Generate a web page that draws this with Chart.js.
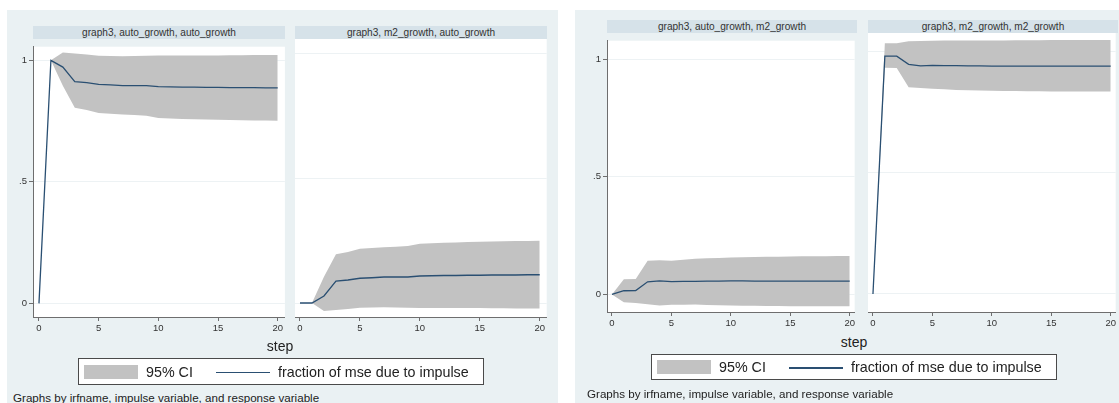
<!DOCTYPE html>
<html><head><meta charset="utf-8">
<script src="https://cdn.jsdelivr.net/npm/chart.js@4.4.1/dist/chart.umd.min.js"></script>
<style>
html,body{margin:0;padding:0;background:#fff;width:1119px;height:403px;overflow:hidden;font-family:"Liberation Sans",Arial,sans-serif;}
.bg{position:absolute;background:#eaf1f3;}
.strip{position:absolute;background:#d6e2e9;color:#333;font-size:10.1px;text-align:center;height:13px;line-height:13px;white-space:nowrap;}
canvas{position:absolute;}
.step{position:absolute;font-size:14px;color:#222;transform:translate(-50%,-50%);white-space:nowrap;}
.legend{position:absolute;background:#fff;border:1px solid #4a4a4a;box-sizing:border-box;}
.legend .sw{position:absolute;background:#c2c2c2;}
.legend .ln{position:absolute;height:1.5px;background:#2a4f72;}
.legend .tx{position:absolute;font-size:14.3px;color:#222;white-space:nowrap;transform:translateY(-50%);}
.foot{position:absolute;font-size:11.6px;color:#222;white-space:nowrap;transform:translateY(-50%);}
</style></head>
<body>
<div class="bg" style="left:7px;top:10px;width:551px;height:393px;"></div>
<div class="bg" style="left:575px;top:10px;width:544px;height:393px;"></div>
<div id="root"></div>
<script>
// ---- data ----
const steps = [0,1,2,3,4,5,6,7,8,9,10,11,12,13,14,15,16,17,18,19,20];
const xTicks = [0,5,10,15,20];
const yTicks = [0,0.5,1];
const yTickLabels = ['0','.5','1'];

const titles = [
  'graph3, auto_growth, auto_growth',
  'graph3, m2_growth, auto_growth',
  'graph3, auto_growth, m2_growth',
  'graph3, m2_growth, m2_growth'
];

// graph3, auto_growth -> auto_growth
const fevd_aa  = [0,1.000,0.972,0.912,0.908,0.901,0.899,0.896,0.896,0.896,0.892,0.891,0.890,0.890,0.889,0.889,0.888,0.888,0.888,0.887,0.887];
const upper_aa = [0,1.000,1.032,1.028,1.024,1.019,1.018,1.017,1.018,1.019,1.020,1.020,1.020,1.020,1.020,1.020,1.021,1.021,1.022,1.022,1.022];
const lower_aa = [0,1.000,0.895,0.805,0.796,0.783,0.780,0.777,0.775,0.772,0.763,0.761,0.759,0.758,0.756,0.755,0.754,0.753,0.752,0.752,0.751];

// graph3, m2_growth -> auto_growth
const fevd_ma  = [0,0,0.028,0.088,0.092,0.099,0.101,0.104,0.104,0.104,0.108,0.109,0.110,0.110,0.111,0.111,0.112,0.112,0.112,0.113,0.113];
const upper_ma = [0,0,0.105,0.195,0.204,0.217,0.220,0.223,0.225,0.228,0.237,0.239,0.241,0.242,0.244,0.245,0.246,0.247,0.248,0.248,0.249];
const lower_ma = [0,0,-0.032,-0.028,-0.024,-0.019,-0.018,-0.017,-0.018,-0.019,-0.020,-0.020,-0.020,-0.020,-0.020,-0.020,-0.021,-0.021,-0.022,-0.022,-0.022];

// graph3, auto_growth -> m2_growth
const fevd_am  = [0,0.016,0.017,0.054,0.058,0.055,0.056,0.056,0.057,0.057,0.058,0.058,0.057,0.057,0.057,0.057,0.057,0.057,0.057,0.057,0.057];
const upper_am = [0,0.065,0.066,0.143,0.146,0.143,0.148,0.152,0.154,0.155,0.157,0.158,0.159,0.160,0.160,0.161,0.162,0.163,0.163,0.164,0.164];
const lower_am = [0,-0.033,-0.036,-0.041,-0.047,-0.044,-0.044,-0.043,-0.045,-0.046,-0.047,-0.048,-0.048,-0.049,-0.049,-0.050,-0.050,-0.050,-0.050,-0.050,-0.050];

// graph3, m2_growth -> m2_growth
const fevd_mm  = [0,0.983,0.983,0.949,0.943,0.945,0.944,0.944,0.943,0.943,0.942,0.942,0.942,0.942,0.942,0.942,0.942,0.942,0.942,0.942,0.942];
const upper_mm = [0,1.036,1.036,1.044,1.045,1.046,1.047,1.047,1.047,1.048,1.048,1.048,1.049,1.049,1.049,1.050,1.050,1.050,1.050,1.050,1.050];
const lower_mm = [0,0.935,0.934,0.854,0.851,0.848,0.846,0.843,0.842,0.841,0.840,0.839,0.839,0.838,0.838,0.837,0.837,0.837,0.837,0.837,0.837];

const legendLabels = ['95% CI','fraction of mse due to impulse'];
const xTitle = 'step';
const footText = 'Graphs by irfname, impulse variable, and response variable';

// ---- layout ----
const BAND = '#c2c2c2', LINE = '#2a4f72', AXIS = '#6e6e6e', GRID = '#edf2f4';
const panels = [
  {title:titles[0], fevd:fevd_aa, up:upper_aa, lo:lower_aa, l:33, t:39, r:285, b:317, yAxis:true,  xmin:-0.5,   xmax:20.6,   ymin:-0.056, ymax:1.056},
  {title:titles[1], fevd:fevd_ma, up:upper_ma, lo:lower_ma, l:295,t:39, r:547, b:317, yAxis:false, xmin:-0.417, xmax:20.583, ymin:-0.056, ymax:1.056},
  {title:titles[2], fevd:fevd_am, up:upper_am, lo:lower_am, l:607,t:33, r:857, b:312, yAxis:true,  xmin:-0.417, xmax:20.417, ymin:-0.0744, ymax:1.0785},
  {title:titles[3], fevd:fevd_mm, up:upper_mm, lo:lower_mm, l:868,t:33, r:1118,b:312, yAxis:false, xmin:-0.417, xmax:20.417, ymin:-0.0744, ymax:1.0785}
];
const root = document.getElementById('root');
const YW = 26, XH = 22;

const whiteArea = {
  id:'whiteArea',
  beforeDraw(chart){
    const a = chart.chartArea, c = chart.ctx;
    c.save(); c.fillStyle = '#fff'; c.fillRect(a.left, a.top, a.right-a.left, a.bottom-a.top); c.restore();
  }
};

panels.forEach((p) => {
  const strip = document.createElement('div');
  strip.className = 'strip';
  strip.style.left = p.l + 'px'; strip.style.top = (p.t-13) + 'px'; strip.style.width = (p.r-p.l) + 'px';
  strip.textContent = p.title;
  root.appendChild(strip);

  const yw = p.yAxis ? YW : 0;
  const cv = document.createElement('canvas');
  const W = (p.r-p.l) + yw, H = (p.b-p.t) + XH;
  cv.width = W; cv.height = H;
  cv.style.left = (p.l-yw) + 'px'; cv.style.top = p.t + 'px';
  cv.style.width = W + 'px'; cv.style.height = H + 'px';
  root.appendChild(cv);

  const pts = arr => steps.map((s,i) => ({x:s, y:arr[i]}));
  new Chart(cv.getContext('2d'), {
    type:'line',
    data:{ datasets:[
      {data:pts(p.lo), order:2, borderWidth:0, pointRadius:0, fill:false, borderColor:'rgba(0,0,0,0)'},
      {data:pts(p.up), order:1, borderWidth:0, pointRadius:0, fill:'-1', backgroundColor:BAND, borderColor:'rgba(0,0,0,0)'},
      {data:pts(p.fevd), order:0, borderWidth:1.3, pointRadius:0, fill:false, borderColor:LINE, tension:0}
    ]},
    options:{
      responsive:false, animation:false, devicePixelRatio:1,
      layout:{padding:0},
      plugins:{legend:{display:false}, tooltip:{enabled:false}, filler:{drawTime:'beforeDatasetsDraw'}},
      scales:{
        x:{type:'linear', min:p.xmin, max:p.xmax,
           afterBuildTicks: s => { s.ticks = xTicks.map(v => ({value:v})); },
           afterFit: s => { s.height = XH; },
           grid:{drawOnChartArea:false, drawTicks:true, tickLength:4, tickColor:AXIS},
           border:{display:true, color:AXIS, width:1},
           ticks:{color:'#333', font:{family:'"Liberation Sans", Arial, sans-serif', size:9.5}, padding:2, maxRotation:0, autoSkip:false,
                  callback: v => String(v)}},
        y:{type:'linear', min:p.ymin, max:p.ymax,
           afterBuildTicks: s => { s.ticks = yTicks.map(v => ({value:v})); },
           afterFit: s => { s.width = yw; },
           grid:{color:GRID, lineWidth:1, drawTicks:p.yAxis, tickLength:4, tickColor:AXIS},
           border:{display:p.yAxis, color:AXIS, width:1},
           ticks:{display:p.yAxis, color:'#333', font:{family:'"Liberation Sans", Arial, sans-serif', size:9.5}, padding:2, autoSkip:false,
                  callback: v => yTickLabels[yTicks.indexOf(v)] ?? ''}}
      }
    },
    plugins:[whiteArea]
  });
});

// axis titles, legends, footers
function addEl(cls, css, html){ const d=document.createElement('div'); d.className=cls; Object.assign(d.style,css); if(html!==undefined) d.textContent=html; root.appendChild(d); return d; }
addEl('step', {left:'280px', top:'346px'}, xTitle);
addEl('step', {left:'854px', top:'342px'}, xTitle);

function legend(x, y, w, h){
  const lg = addEl('legend', {left:x+'px', top:y+'px', width:w+'px', height:h+'px'});
  const mid = h/2 - 1;
  const sw = document.createElement('div'); sw.className='sw'; Object.assign(sw.style,{left:'5px', top:(mid-7)+'px', width:'54px', height:'14px'}); lg.appendChild(sw);
  const t1 = document.createElement('div'); t1.className='tx'; Object.assign(t1.style,{left:'67px', top:mid+'px'}); t1.textContent=legendLabels[0]; lg.appendChild(t1);
  const ln = document.createElement('div'); ln.className='ln'; Object.assign(ln.style,{left:'137px', top:mid+'px', width:'54px'}); lg.appendChild(ln);
  const t2 = document.createElement('div'); t2.className='tx'; Object.assign(t2.style,{left:'199px', top:mid+'px'}); t2.textContent=legendLabels[1]; lg.appendChild(t2);
}
legend(78, 358, 406, 27);
legend(651, 354, 406, 26);

addEl('foot', {left:'13px', top:'397px'}, footText);
addEl('foot', {left:'587px', top:'393px'}, footText);
</script>
</body></html>
